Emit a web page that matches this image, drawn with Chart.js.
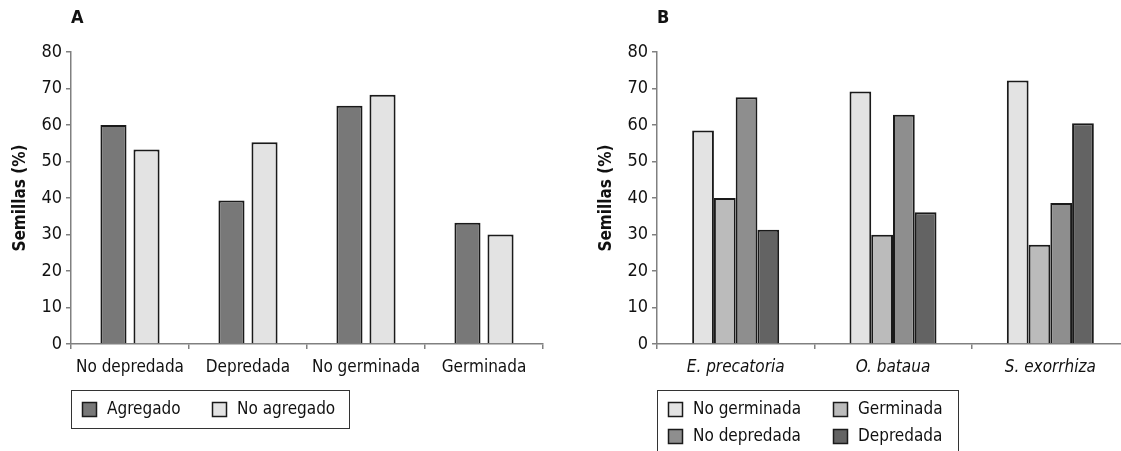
<!DOCTYPE html>
<html>
<head>
<meta charset="utf-8">
<script src="https://cdn.jsdelivr.net/npm/chart.js@4.4.1/dist/chart.umd.min.js"></script>
<style>
  html, body { margin: 0; padding: 0; background: #fff; overflow: hidden; }
  body { width: 1121px; height: 451px; position: relative; }
  .panel { position: absolute; top: 0; width: 560px; height: 451px; }
  .panel canvas { display: block; }
  .tag { position: absolute; top: 6px; left: 71px; font: bold 18px 'DejaVu Sans Condensed', sans-serif; color: #111; }
</style>
</head>
<body>
<div class="panel" style="left:0">
  <canvas id="chartA" width="560" height="451"></canvas>
  <div class="tag">A</div>
</div>
<div class="panel" style="left:586px">
  <canvas id="chartB" width="560" height="451"></canvas>
  <div class="tag">B</div>
</div>
<script>
const FONT = "'DejaVu Sans Condensed', 'DejaVu Sans', sans-serif"

const yTicks = [0, 10, 20, 30, 40, 50, 60, 70, 80]

// panel A
const stagesA = ['No depredada', 'Depredada', 'No germinada', 'Germinada']
const agregado = [60, 39.3, 65.3, 33.2]
const noAgregado = [53.3, 55.3, 68.3, 30]

// panel B
const speciesB = ['E. precatoria', 'O. bataua', 'S. exorrhiza']
const noGerminada = [58.5, 69.2, 72.2]
const germinada = [40, 29.9, 27.2]
const noDepredada = [67.6, 62.8, 38.6]
const depredada = [31.3, 36.1, 60.5]

// legend in a framed box under the plot
const boxLegend = {
  id: 'boxLegend',
  afterDraw (chart, args, opts) {
    const { ctx, chartArea } = chart
    const x0 = chartArea.left
    const y0 = chartArea.bottom + opts.top
    ctx.save()
    ctx.lineWidth = 1
    ctx.strokeStyle = '#333'
    ctx.strokeRect(x0 + 0.5, y0 + 0.5, opts.width, opts.height)
    ctx.font = '17px ' + FONT
    ctx.textBaseline = 'middle'
    ctx.textAlign = 'left'
    const cols = opts.columns
    chart.data.datasets.forEach((ds, i) => {
      const x = x0 + cols[i % cols.length]
      const y = y0 + opts.firstRow + Math.floor(i / cols.length) * opts.rowGap
      ctx.fillStyle = ds.backgroundColor
      ctx.fillRect(x, y - 7, 15, 15)
      ctx.strokeStyle = '#1a1a1a'
      ctx.lineWidth = 1.5
      ctx.strokeRect(x + 0.5, y - 6.5, 14, 14)
      ctx.fillStyle = '#111'
      ctx.fillText(ds.label, x + 25, y + 1)
    })
    ctx.restore()
  }
}

function makeChart (id, labels, datasets, opts) {
  return new Chart(document.getElementById(id), {
    type: 'bar',
    data: { labels, datasets },
    plugins: [boxLegend],
    options: {
      responsive: false,
      animation: false,
      layout: { autoPadding: false, padding: { left: 0, top: 52, right: 17, bottom: 67 } },
      datasets: {
        bar: {
          categoryPercentage: opts.catPct,
          barPercentage: opts.barPct,
          borderColor: '#1a1a1a',
          borderWidth: 2
        }
      },
      scales: {
        x: {
          afterFit (scale) { scale.height = 40 },
          grid: { drawOnChartArea: false, color: '#808080', lineWidth: 1.5, tickLength: 5 },
          border: { color: '#808080', width: 1.5 },
          ticks: {
            color: '#111',
            padding: 8,
            maxRotation: 0,
            minRotation: 0,
            autoSkip: false,
            font: { family: FONT, size: 17, style: opts.italic ? 'italic' : 'normal' }
          }
        },
        y: {
          min: 0,
          max: 80,
          afterFit (scale) { scale.width = 71 },
          afterBuildTicks (scale) { scale.ticks = yTicks.map(v => ({ value: v })) },
          grid: { drawOnChartArea: false, color: '#808080', lineWidth: 1.5, tickLength: 5 },
          border: { color: '#808080', width: 1.5 },
          ticks: { color: '#111', padding: 4, font: { family: FONT, size: 18 } },
          title: {
            display: true,
            text: 'Semillas (%)',
            color: '#111',
            padding: { top: 10, bottom: 0 },
            font: { family: FONT, size: 17, weight: 'bold' }
          }
        }
      },
      plugins: {
        legend: { display: false },
        tooltip: { enabled: false },
        boxLegend: opts.legend
      }
    }
  })
}

makeChart('chartA', stagesA, [
  { label: 'Agregado', data: agregado, backgroundColor: '#787878' },
  { label: 'No agregado', data: noAgregado, backgroundColor: '#e3e3e3' }
], {
  catPct: 0.56,
  barPct: 0.79,
  italic: false,
  legend: { top: 46, width: 278, height: 38, firstRow: 19, rowGap: 27, columns: [11, 141] }
})

makeChart('chartB', speciesB, [
  { label: 'No germinada', data: noGerminada, backgroundColor: '#e3e3e3' },
  { label: 'Germinada', data: germinada, backgroundColor: '#bbbbbb' },
  { label: 'No depredada', data: noDepredada, backgroundColor: '#8e8e8e' },
  { label: 'Depredada', data: depredada, backgroundColor: '#636363' }
], {
  catPct: 0.553,
  barPct: 1.0,
  italic: true,
  legend: { top: 46, width: 301, height: 80, firstRow: 19, rowGap: 27, columns: [11, 176] }
})
</script>
</body>
</html>
